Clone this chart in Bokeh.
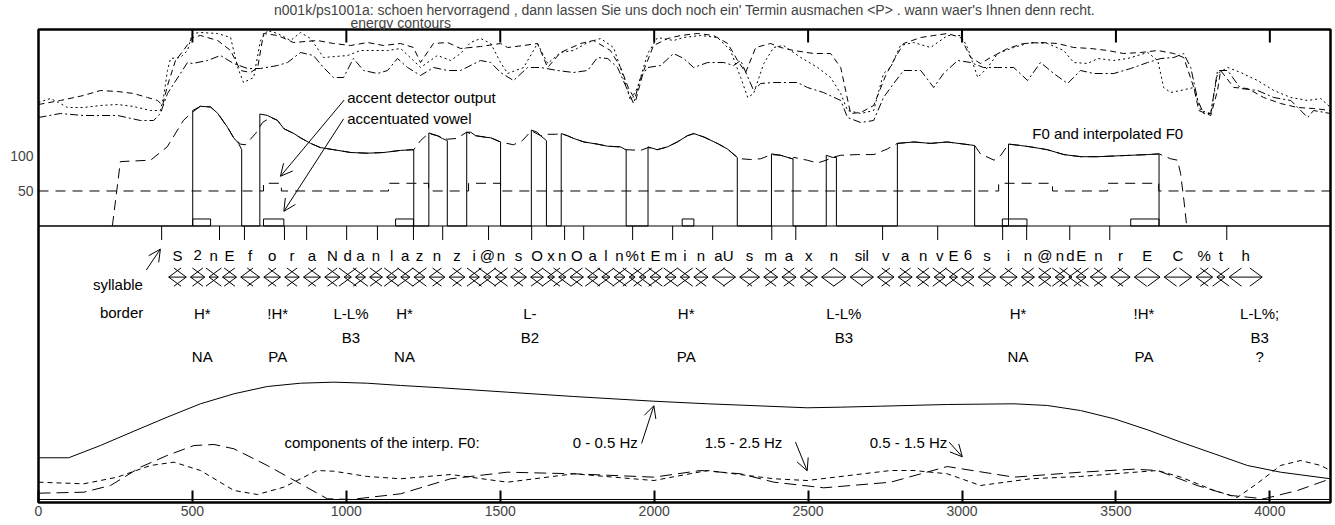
from bokeh.plotting import figure
from bokeh.models import Range1d, LinearAxis, FixedTicker, Label, Arrow, OpenHead, Span, Title
from bokeh.core.properties import value
from bokeh.embed import file_html
from bokeh.resources import INLINE

FONT = "Liberation Sans"
TITLE = ("n001k/ps1001a: schoen hervorragend , dann lassen Sie uns doch noch ein' "
         "Termin ausmachen <P> . wann waer's Ihnen denn recht.")

T_END = 4197
F0_LO, F0_HI = -395, 280.7
x_ticks = [0, 500, 1000, 1500, 2000, 2500, 3000, 3500, 4000]
f0_ticks = [50, 100]

# ---------------- energy contours (dB) ----------------
en_dot_t = [0, 39, 65, 94, 146, 201, 257, 309, 364, 396, 406, 419, 429, 461, 484, 500, 526, 582, 624, 647,
            666, 699, 721, 744, 777, 819, 851, 884, 926, 1004, 1046, 1134, 1176, 1218, 1241, 1296, 1339, 1371, 1404, 1436,
            1469, 1501, 1524, 1576, 1621, 1654, 1696, 1738, 1784, 1826, 1868, 1901, 1923, 1946, 1979, 2011, 2063, 2096, 2151, 2206,
            2248, 2281, 2304, 2323, 2356, 2388, 2420, 2476, 2531, 2573, 2606, 2628, 2671, 2713, 2745, 2768, 2800, 2843, 2898, 2953,
            2996, 3018, 3051, 3083, 3116, 3168, 3223, 3278, 3330, 3363, 3408, 3441, 3493, 3538, 3603, 3636, 3655, 3678, 3710, 3753,
            3775, 3808, 3830, 3863, 3905, 3960, 4013, 4068, 4123, 4165, 4197]
en_dot = [62, 64, 62, 59.5, 59.5, 60.5, 61, 60, 58, 58, 64.5, 78, 84, 84.5, 88, 96.5, 97, 96.5, 94.5, 79.5,
          72, 74.5, 93, 98, 96.5, 93, 97, 94, 84.5, 85.5, 88, 88, 89, 83, 79.5, 85.5, 83, 86.5, 92, 94,
          91.5, 82, 76.5, 79.5, 91.5, 81.5, 87, 88, 92, 94, 89.5, 74.5, 63, 69.5, 86.5, 94.5, 93, 94.5, 95.5, 94.5,
          88, 74.5, 64.5, 66.5, 81.5, 89.5, 90.5, 84.5, 79.5, 74.5, 66.5, 58, 56.5, 58, 76.5, 79.5, 90.5, 92, 89.5, 95.5,
          95.5, 89.5, 74.5, 79.5, 86.5, 89.5, 92, 91.5, 88, 82, 81.5, 84, 83, 84, 87, 83, 69.5, 67, 68, 69.5,
          58, 56.5, 76.5, 79.5, 77, 73, 68, 64.5, 63, 64, 59.5]

en_dash_t = [0, 71, 146, 201, 257, 309, 354, 387, 403, 419, 445, 471, 500, 526, 582, 624, 656, 689, 712, 731,
             777, 828, 906, 958, 1014, 1069, 1121, 1176, 1218, 1241, 1283, 1329, 1371, 1436, 1501, 1524, 1576, 1621, 1654, 1696,
             1761, 1803, 1858, 1891, 1917, 1940, 1966, 1998, 2044, 2086, 2141, 2193, 2239, 2271, 2297, 2330, 2378, 2411, 2453, 2518,
             2573, 2606, 2638, 2671, 2713, 2752, 2778, 2810, 2866, 2908, 2953, 2996, 3028, 3060, 3093, 3148, 3200, 3255, 3311, 3363,
             3418, 3473, 3525, 3580, 3636, 3688, 3720, 3753, 3769, 3808, 3830, 3840, 3883, 3928, 3980, 4035, 4090, 4142, 4197]
en_dash = [61, 63, 65.5, 68, 67.5, 66.5, 64.5, 63, 60.5, 70.5, 83, 88, 94.5, 95.5, 93, 88, 78, 77, 79.5, 96.5,
           95.5, 92, 93, 91.5, 90.5, 92, 90.5, 91.5, 89.5, 82, 91.5, 92, 89, 90, 91.5, 89.5, 90.5, 91.5, 79.5, 87,
           91.5, 93, 88, 79.5, 69, 63, 78, 90.5, 94, 95.5, 96.5, 95.5, 91.5, 83, 77, 89.5, 91.5, 89.5, 88, 86.5,
           86.5, 79.5, 56.5, 57, 60.5, 75.5, 83, 91.5, 94.5, 95.5, 96.5, 94.5, 84.5, 81.5, 84.5, 89, 91.5, 92, 91.5, 89.5,
           89, 88, 86.5, 87, 88, 86.5, 84.5, 69.5, 58, 55.5, 68, 78, 69.5, 69, 64.5, 61.5, 59.5, 59, 58]

en_dd_t = [0, 71, 146, 257, 331, 374, 396, 419, 461, 484, 500, 549, 591, 634, 679, 721, 777, 809, 851, 893,
           926, 958, 991, 1023, 1056, 1101, 1134, 1166, 1199, 1241, 1283, 1329, 1371, 1436, 1469, 1501, 1543, 1589, 1631, 1686,
           1738, 1784, 1816, 1849, 1881, 1914, 1933, 1956, 1979, 2021, 2063, 2096, 2128, 2174, 2226, 2258, 2281, 2323, 2346, 2388,
           2466, 2498, 2550, 2606, 2628, 2671, 2713, 2745, 2778, 2810, 2866, 2908, 2940, 2986, 3028, 3070, 3116, 3168, 3213, 3255,
           3298, 3343, 3385, 3428, 3493, 3548, 3603, 3646, 3688, 3720, 3743, 3766, 3785, 3808, 3830, 3863, 3905, 3960, 4013, 4068,
           4123, 4142, 4197]
en_dd = [54.5, 56.5, 55.5, 55.5, 53, 53, 56.5, 66.5, 76.5, 82, 81.5, 83, 85.5, 81.5, 79, 79, 80.5, 82, 87, 85.5,
         79.5, 74.5, 74.5, 84, 78, 76.5, 78, 84, 79.5, 75.5, 79.5, 78, 78, 83, 82, 77, 73, 79.5, 79.5, 78,
         77, 78, 84.5, 84, 79.5, 68, 61.5, 74.5, 79.5, 80.5, 86.5, 84, 79.5, 82, 82, 80.5, 83, 68, 71.5, 72,
         72, 69.5, 67, 63, 54.5, 52, 53, 64.5, 71.5, 78, 78, 69.5, 76.5, 83, 82, 79.5, 79.5, 79.5, 73, 82,
         76.5, 71.5, 78, 76.5, 76.5, 79, 82, 84, 84.5, 86.5, 79.5, 63, 56.5, 56.5, 78, 78, 69, 68, 64.5, 63,
         54.5, 58, 56.5]

# ---------------- F0 (Hz) ----------------
f0_t = [0,
        501, 501, 526, 559, 582, 614, 634, 650, 660, 660,
        719, 719, 743, 776, 797, 830, 851, 884, 916, 959, 1014, 1068, 1122, 1176, 1219, 1219,
        1268, 1268, 1295, 1312, 1328, 1328,
        1391, 1391, 1404, 1420, 1447, 1469, 1501, 1501,
        1601, 1601, 1620, 1631, 1642, 1650, 1650,
        1698, 1698, 1718, 1739, 1772, 1815, 1848, 1891, 1907, 1909, 1909,
        1980, 1980, 2010, 2043, 2075, 2108, 2129, 2162, 2205, 2238, 2270, 2270,
        2381, 2381, 2411, 2449, 2451, 2451,
        2559, 2559, 2579, 2592, 2592,
        2790, 2790, 2844, 2898, 2952, 3006, 3041, 3041,
        3151, 3151, 3190, 3223, 3277, 3331, 3386, 3440, 3494, 3548, 3602, 3640, 3640,
        4197]
f0_hz = [0,
         0, 165, 171, 170, 161, 141, 126, 118, 109, 0,
         0, 160, 158, 151, 139, 132, 126, 118, 112, 109, 105, 104, 105, 108, 109, 0,
         0, 133, 129, 125, 122, 0,
         0, 134, 134, 129, 127, 126, 120, 0,
         0, 137, 134, 129, 125, 122, 0,
         0, 132, 129, 125, 120, 117, 114, 113, 109, 109, 0,
         0, 113, 109, 113, 120, 129, 132, 127, 118, 110, 98, 0,
         0, 103, 101, 96, 96, 0,
         0, 101, 98, 98, 0,
         0, 118, 120, 118, 120, 117, 115, 0,
         0, 117, 115, 113, 109, 102, 99, 99, 100, 101, 102, 103, 0,
         0]

interp_t = [240, 266, 364, 418, 471, 501, 526, 559, 582, 614, 634, 656, 672, 705, 728, 754, 776, 797, 830, 851,
            884, 916, 959, 1014, 1068, 1122, 1176, 1219, 1241, 1267, 1296, 1328, 1358, 1391, 1420, 1469, 1501, 1543, 1572, 1601,
            1631, 1653, 1680, 1698, 1718, 1739, 1772, 1815, 1848, 1891, 1909, 1956, 1980, 2010, 2043, 2075, 2108, 2129, 2162, 2205,
            2238, 2270, 2281, 2313, 2346, 2381, 2411, 2449, 2454, 2497, 2530, 2559, 2579, 2606, 2660, 2714, 2757, 2790, 2844, 2898,
            2952, 3006, 3041, 3060, 3104, 3126, 3151, 3190, 3223, 3277, 3331, 3386, 3440, 3494, 3548, 3602, 3640, 3678, 3700, 3710,
            3721, 3730]
interp_hz = [0, 92, 94, 113, 151, 163, 171, 170, 161, 141, 126, 117, 116, 132, 148, 155, 151, 139, 132, 126,
             118, 112, 109, 105, 104, 105, 108, 109, 122, 132, 129, 124, 125, 134, 129, 126, 120, 116, 122, 136,
             129, 131, 131, 132, 129, 125, 120, 117, 114, 113, 109, 108, 112, 109, 113, 120, 129, 132, 127, 118,
             110, 98, 96, 95, 96, 102, 101, 96, 98, 94, 90, 94, 98, 101, 102, 102, 110, 118, 120, 118,
             120, 117, 115, 103, 94, 101, 117, 115, 113, 109, 102, 99, 99, 100, 101, 102, 103, 96, 94, 75,
             36, 0]

# accent detector output (Hz level) and accentuated vowels
det_base, det_high = 50, 61
det_on = [731, 1137, 1397, 3119, 3473]
det_off = [789, 1267, 1501, 3294, 3639]
vowel_on = [501, 731, 1160, 2091, 3131, 3548]
vowel_off = [559, 797, 1218, 2129, 3211, 3640]
vowel_level = 10

# ---------------- segmentation ----------------
syl_borders = [400, 588, 669, 799, 871, 1001, 1101, 1218, 1313, 1462, 1602, 1709, 1771, 1930, 2060, 2190,
               2382, 2460, 2742, 2921, 3132, 3210, 3350, 3480, 3860]
phonemes = ["S", "2", "n", "E", "f", "o", "r", "a", "N", "d", "a", "n", "l", "a", "z", "n", "z", "i", "@", "n",
            "s", "O", "x", "n", "O", "a", "l", "n", "%", "t", "E", "m", "i", "n", "aU", "s", "m", "a", "x", "n",
            "sil", "v", "a", "n", "v", "E", "6", "s", "i", "n", "@", "n", "d", "E", "n", "r", "E", "C", "%", "t", "h"]
ph_bounds = [416, 487, 547, 591, 650, 725, 793, 854, 923, 986, 1023, 1069, 1124, 1170, 1213, 1262, 1327, 1392,
             1439, 1477, 1527, 1592, 1647, 1683, 1720, 1777, 1823, 1863, 1912, 1945, 1980, 2029, 2078, 2122, 2182,
             2271, 2349, 2408, 2468, 2537, 2630, 2719, 2786, 2845, 2903, 2952, 2992, 3046, 3116, 3186, 3242, 3296,
             3340, 3364, 3410, 3476, 3553, 3650, 3753, 3821, 3861, 3982]

acc_t = [532, 777, 1015, 1189, 1596, 2104, 2616, 3182, 3591, 3967]
tones = ["H*", "!H*", "L-L%", "H*", "L-", "H*", "L-L%", "H*", "!H*", "L-L%;"]
breaks = ["", "", "B3", "", "B2", "", "B3", "", "", "B3"]
accents = ["NA", "PA", "", "NA", "", "PA", "", "NA", "PA", "?"]

# ---------------- components of interpolated F0 (Hz) ----------------
comp_low_t = [0, 98, 201, 310, 418, 526, 635, 743, 851, 959, 1068, 1176, 1306, 1523, 1739, 1999, 2173, 2389, 2497, 2606,
              2736, 2952, 3169, 3277, 3385, 3494, 3602, 3711, 3819, 3927, 4035, 4197]
comp_low = [59.6, 59.6, 77.1, 97.6, 117.6, 136.7, 151, 161.4, 166.1, 167.6, 166.1, 162.9, 159.6, 153.3, 147.1, 140.4,
            136.7, 132.9, 131, 131.9, 133.3, 135.7, 136.7, 134.3, 127.1, 115.3, 99.6, 81.9, 65.3, 48.6, 39, 29.6]
comp_mid_t = [0, 147, 234, 331, 418, 505, 570, 635, 743, 851, 938, 1014, 1176, 1339, 1523, 1739, 1999, 2151, 2281, 2389,
              2551, 2768, 2952, 3169, 3385, 3559, 3635, 3764, 3873, 3981, 4090, 4197]
comp_mid = [9, 10.4, 20, 46.1, 62.9, 77.1, 78.6, 72.4, 48.6, 22.4, 1, 0, 8.1, 29.6, 39, 36.7, 31.9, 41.4, 36.7, 24.7,
            16.7, 24.7, 47.1, 31.9, 39, 43.3, 41.4, 20, 5.7, 1, 12.9, 29.6]
comp_high_t = [0, 147, 256, 364, 440, 526, 635, 711, 797, 905, 959, 1068, 1176, 1339, 1523, 1739, 1999, 2173, 2389, 2497,
               2768, 2844, 2952, 3060, 3223, 3385, 3494, 3635, 3711, 3819, 3894, 3959, 4035, 4100, 4165, 4197]
comp_high = [24.7, 22.4, 31.9, 48.6, 53.3, 41.4, 12.9, 7.1, 17.6, 41.4, 40.4, 32.9, 29.6, 35.7, 24.7, 36.7, 27.1, 41.4,
             29.6, 27.1, 41.4, 41.4, 36.7, 20, 29.6, 32.9, 36.7, 41.4, 31.9, 12.9, 2.9, 22.9, 48.6, 55.7, 48.6, 41.4]

# ---------------- figure ----------------
p = figure(width=1335, height=525, output_backend="svg", toolbar_location=None, title=None,
           x_range=Range1d(0, T_END), y_range=Range1d(F0_LO, F0_HI),
           x_axis_location=None, y_axis_location=None,
           min_border_left=38, min_border_right=5, min_border_top=29, min_border_bottom=23)
p.extra_y_ranges = {"energy": Range1d(-138, 98.5), "comp": Range1d(-4.3, 671.4)}
p.grid.visible = False
p.outline_line_color = "black"
p.outline_line_width = 2.5
p.background_fill_color = "white"
p.border_fill_color = "white"

# titles (closest to the frame first)
p.add_layout(Title(text="energy contours", align="left", offset=312, standoff=-2,
                   text_font=FONT, text_font_size="14px", text_font_style="normal"), "above")
p.add_layout(Title(text=TITLE, align="center", standoff=-8,
                   text_font=FONT, text_font_size="14px", text_font_style="normal"), "above")

xb = LinearAxis(ticker=FixedTicker(ticks=x_ticks))
xb.major_tick_in = 12
xb.major_tick_out = 0
xb.major_tick_line_width = 2
xb.axis_line_color = None
xb.minor_tick_line_color = None
xb.major_label_standoff = 3
xb.major_label_text_font = FONT
xb.major_label_text_font_size = "14px"
p.add_layout(xb, "below")

yl = LinearAxis(ticker=FixedTicker(ticks=f0_ticks))
yl.major_tick_in = 0
yl.major_tick_out = 0
yl.axis_line_color = None
yl.minor_tick_line_color = None
yl.major_label_standoff = 5
yl.major_label_text_font = FONT
yl.major_label_text_font_size = "14px"
p.add_layout(yl, "left")

# ticks hanging from the top of the frame
p.segment(x0=x_ticks[1:], y0=F0_HI, x1=x_ticks[1:], y1=F0_HI - 18.5, line_color="black", line_width=2)

# baselines
p.add_layout(Span(location=0, dimension="width", line_color="black", line_width=1))
p.add_layout(Span(location=0, dimension="width", line_color="black", line_width=1, y_range_name="comp"))

# energy contours
p.line(en_dot_t, en_dot, y_range_name="energy", line_color="black", line_width=1, line_dash="2 3")
p.line(en_dash_t, en_dash, y_range_name="energy", line_color="black", line_width=1, line_dash="6 4")
p.line(en_dd_t, en_dd, y_range_name="energy", line_color="black", line_width=1, line_dash="8 3 2 3")

# F0 and interpolated F0
p.line(f0_t, f0_hz, line_color="black", line_width=1)
p.line(interp_t, interp_hz, line_color="black", line_width=1, line_dash="10 6")

# accent detector output
det_x, det_y = [0], [det_base]
for a, b in zip(det_on, det_off):
    det_x += [a, b]
    det_y += [det_high, det_base]
det_x.append(T_END)
det_y.append(det_base)
p.step(det_x, det_y, mode="after", line_color="black", line_width=1, line_dash="10 7")

# accentuated vowels
p.quad(left=vowel_on, right=vowel_off, bottom=0, top=vowel_level, fill_color=None,
       line_color="black", line_width=1)

# syllable borders
p.segment(x0=syl_borders, y0=0, x1=syl_borders, y1=-20, line_color="black", line_width=1)

# phoneme segments: <---> shapes, slightly inset from the boundaries
YC, W, H, GAP = -73, 40, 13, 7
xs, ys = [], []
for a, b in zip(ph_bounds[:-1], ph_bounds[1:]):
    a2, b2 = a + GAP, b - GAP
    xs += [[a2, b2], [a2 + W, a2, a2 + W], [b2 - W, b2, b2 - W]]
    ys += [[YC, YC], [YC + H, YC, YC - H], [YC + H, YC, YC - H]]
p.multi_line(xs, ys, line_color="black", line_width=1)

ph_mid = [(a + b) / 2 for a, b in zip(ph_bounds[:-1], ph_bounds[1:])]
p.text(x=ph_mid, y=[-42] * len(ph_mid), text=phonemes, text_font=value(FONT), text_font_size="15px",
       text_align="center", text_baseline="middle", text_color="black")

for rowy, labels in ((-125, tones), (-159, breaks), (-186, accents)):
    xs_l = [t for t, s in zip(acc_t, labels) if s]
    tx_l = [s for s in labels if s]
    p.text(x=xs_l, y=[rowy] * len(xs_l), text=tx_l, text_font=value(FONT), text_font_size="15px",
           text_align="center", text_baseline="middle", text_color="black")

p.line(comp_low_t, comp_low, y_range_name="comp", line_color="black", line_width=1)
p.line(comp_mid_t, comp_mid, y_range_name="comp", line_color="black", line_width=1, line_dash="12 6")
p.line(comp_high_t, comp_high, y_range_name="comp", line_color="black", line_width=1, line_dash="5 4")


def lab(x, y, text, align="left", rng="default"):
    p.add_layout(Label(x=x, y=y, text=text, text_font=FONT, text_font_size="15px",
                       text_align=align, text_baseline="middle", text_color="black",
                       y_range_name=rng))


def arrow(x0, y0, x1, y1, rng="default"):
    p.add_layout(Arrow(end=OpenHead(size=12, line_width=1, line_color="black"),
                       x_start=x0, y_start=y0, x_end=x1, y_end=y1,
                       line_color="black", line_width=1, y_range_name=rng))


lab(1003, 183, "accent detector output")
lab(1003, 153, "accentuated vowel")
lab(3480, 132, "F0 and interpolated  F0", "center")
lab(258, -83, "syllable", "center")
lab(270, -124, "border", "center")
lab(799, 82, "components of the interp. F0:", "left", "comp")
lab(1947, 82, "0 - 0.5 Hz", "right", "comp")
lab(2416, 82, "1.5 - 2.5 Hz", "right", "comp")
lab(2952, 82, "0.5 - 1.5 Hz", "right", "comp")

arrow(993, 180, 786, 71)
arrow(991, 153, 797, 21)
arrow(350, -63, 396, -33)
arrow(1959, 80, 1999, 134, "comp")
arrow(2459, 82, 2497, 41, "comp")
arrow(2958, 82, 3001, 61, "comp")

open("out.html", "w").write(file_html(p, INLINE))
